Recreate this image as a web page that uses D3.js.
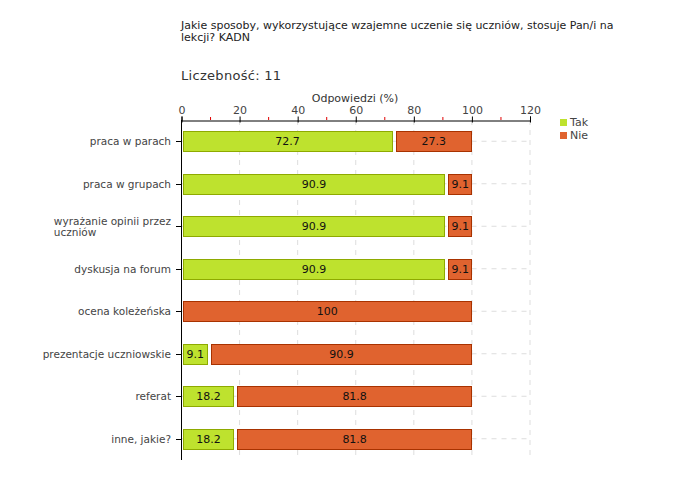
<!DOCTYPE html>
<html><head><meta charset="utf-8">
<script src="https://cdn.jsdelivr.net/npm/d3@7"></script>
<style>body{margin:0;background:#fff}svg{display:block}</style>
</head><body>
<script>
const categories = ["praca w parach","praca w grupach","wyrażanie opinii przez uczniów","dyskusja na forum","ocena koleżeńska","prezentacje uczniowskie","referat","inne, jakie?"];
const tak = [72.7, 90.9, 90.9, 90.9, 0, 9.1, 18.2, 18.2];
const nie = [27.3, 9.1, 9.1, 9.1, 100, 90.9, 81.8, 81.8];
const seriesNames = ["Tak","Nie"];
const xTicks = [0,20,40,60,80,100,120];
const minorTicks = [10,30,50,70,90,110];
const titleLines = ["Jakie sposoby, wykorzystujące wzajemne uczenie się uczniów, stosuje Pan/i na","lekcji? KADN"];
const countLabel = "Liczebność: 11";
const axisTitle = "Odpowiedzi (%)";

const W = 680, H = 480;
const colors = {Tak:{fill:"#bee22e", stroke:"#8eaa00"}, Nie:{fill:"#e0632f", stroke:"#a83200"}};
const font = "DejaVu Sans, Verdana, sans-serif";

const svg = d3.select("body").append("svg").attr("width", W).attr("height", H)
  .style("font-family", font);

const x = d3.scaleLinear().domain([0,120]).range([181.5, 530]);
const y = d3.scaleBand().domain(categories).range([120, 460]).paddingInner(0.53).paddingOuter(0.265);

// title
svg.append("g").selectAll("text").data(titleLines).join("text")
  .attr("x", 181).attr("y", (d,i)=>29 + i*12).attr("font-size", 11).attr("fill","#222").text(d=>d);
svg.append("text").attr("x",181).attr("y",80).attr("font-size",13).attr("fill","#333")
  .attr("letter-spacing", 0.3).text(countLabel);
svg.append("text").attr("x", 355).attr("y", 102).attr("text-anchor","middle")
  .attr("font-size",11).attr("fill","#333").text(axisTitle);

// grid
const grid = svg.append("g");
grid.selectAll("line.v").data(xTicks.slice(1)).join("line")
  .attr("x1", d=>x(d)).attr("x2", d=>x(d)).attr("y1",120).attr("y2",460)
  .attr("stroke","#ddd").attr("stroke-dasharray","5,5");
grid.selectAll("line.h").data(categories).join("line")
  .attr("x1", x(0)).attr("x2", x(120)).attr("y1", d=>y(d)+y.bandwidth()/2).attr("y2", d=>y(d)+y.bandwidth()/2)
  .attr("stroke","#ddd").attr("stroke-dasharray","5,5");

// top axis
const xAxis = d3.axisTop(x).tickValues(xTicks).tickSize(4).tickPadding(3);
const gx = svg.append("g").attr("transform","translate(0,120.5)").call(xAxis);
gx.select(".domain").attr("stroke","#000");
gx.selectAll(".tick line").attr("y2",-4).attr("y1",2).attr("stroke","#000");
gx.selectAll(".tick text").attr("font-size",11).attr("font-family",font).attr("fill","#444");
svg.append("g").selectAll("line").data(minorTicks).join("line")
  .attr("x1", d=>x(d)).attr("x2", d=>x(d)).attr("y1",117).attr("y2",120)
  .attr("stroke","#e00000");

// left axis
svg.append("line").attr("x1",181.5).attr("x2",181.5).attr("y1",120).attr("y2",460).attr("stroke","#000");
svg.append("g").selectAll("line").data(categories).join("line")
  .attr("x1",176).attr("x2",181.5).attr("y1",d=>Math.round(y(d)+y.bandwidth()/2)+0.5).attr("y2",d=>Math.round(y(d)+y.bandwidth()/2)+0.5)
  .attr("stroke","#000");

// category labels
const lab = svg.append("g").attr("font-size",10.5).attr("fill","#444");
categories.forEach(c=>{
  const cy = y(c)+y.bandwidth()/2;
  if (c === "wyrażanie opinii przez uczniów") {
    const t = lab.append("text").attr("y", cy-1.5);
    const l1 = t.append("tspan").attr("x",171).attr("text-anchor","end").text("wyrażanie opinii przez");
    const w = l1.node().getComputedTextLength();
    lab.append("text").attr("x",171-w).attr("y",cy+9.5).text("uczniów");
  } else {
    lab.append("text").attr("x",171).attr("y",cy+4).attr("text-anchor","end").text(c);
  }
});

// bars
const rows = categories.map((c,i)=>({c, vals:[{k:"Tak",v:tak[i]},{k:"Nie",v:nie[i]}]}));
const bars = svg.append("g");
rows.forEach(r=>{
  let start = 0;
  r.vals.forEach(s=>{
    if (s.v <= 0) return;
    const end = start + s.v;
    const x1 = x(start) + (start===0 ? 1 : 3);
    const x2 = x(end);
    const yy = Math.round(y(r.c)) + 0.5;
    bars.append("rect").attr("x", Math.round(x1)+0.5).attr("y", yy)
      .attr("width", Math.round(x2) - Math.round(x1) - 1).attr("height", Math.round(y.bandwidth()))
      .attr("fill", colors[s.k].fill).attr("stroke", colors[s.k].stroke);
    bars.append("text").attr("x",(x1+x2)/2).attr("y", y(r.c)+y.bandwidth()/2+4)
      .attr("text-anchor","middle").attr("font-size",11).attr("fill","#111").text(s.v);
    start = end;
  });
});

// legend
const lg = svg.append("g");
seriesNames.forEach((n,i)=>{
  lg.append("rect").attr("x",560).attr("y",119+i*13).attr("width",7).attr("height",7)
    .attr("fill",colors[n].fill);
  lg.append("text").attr("x",570).attr("y",126+i*13).attr("font-size",11).attr("fill","#444").text(n);
});
</script>
</body></html>
